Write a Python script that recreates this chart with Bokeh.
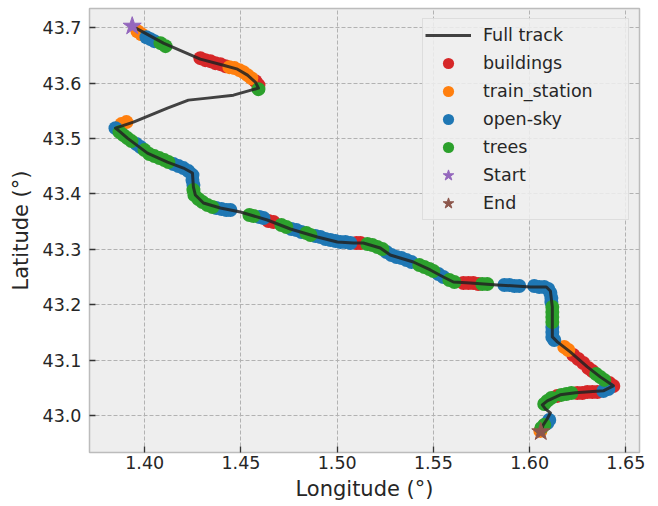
from bokeh.plotting import figure
from bokeh.models import Range1d, FixedTicker, PrintfTickFormatter, Legend, LegendItem
from bokeh.embed import file_html
from bokeh.resources import INLINE

# ---------------- data ----------------
track_lon = [1.3935, 1.4097, 1.4289, 1.4409, 1.4482, 1.4534, 1.4575, 1.4591, 1.4461, 1.4326,
             1.4227, 1.4118, 1.3941, 1.3848, 1.3874, 1.3910, 1.4014, 1.4118, 1.4201, 1.4248,
             1.4253, 1.4263, 1.4305, 1.4393, 1.4497, 1.4637, 1.4757, 1.4897, 1.5001, 1.5084,
             1.5136, 1.5224, 1.5276, 1.5396, 1.5484, 1.5552, 1.5604, 1.5692, 1.5832, 1.6004,
             1.6087, 1.6108, 1.6118, 1.6118, 1.6144, 1.6211, 1.6300, 1.6367, 1.6435, 1.6383,
             1.6238, 1.6159, 1.6092, 1.6066, 1.6082, 1.6108, 1.6092, 1.6071, 1.6058]
track_lat = [43.7031, 43.6724, 43.6435, 43.6326, 43.6254, 43.6146, 43.6020, 43.5912, 43.5785, 43.5731,
             43.5695, 43.5551, 43.5298, 43.5190, 43.5117, 43.5009, 43.4738, 43.4576, 43.4468, 43.4378,
             43.4125, 43.3981, 43.3836, 43.3746, 43.3674, 43.3530, 43.3367, 43.3223, 43.3132, 43.3114,
             43.3114, 43.3024, 43.2898, 43.2771, 43.2627, 43.2500, 43.2410, 43.2392, 43.2356, 43.2320,
             43.2320, 43.2248, 43.1960, 43.1418, 43.1328, 43.1147, 43.0877, 43.0696, 43.0534, 43.0444,
             43.0408, 43.0372, 43.0264, 43.0191, 43.0119, 43.0047, 42.9939, 42.9830, 42.9704]

buildings_lon = [1.4289, 1.4315, 1.4341, 1.4367, 1.4393, 1.4419, 1.4575, 1.4591, 1.4643, 1.4669,
                 1.5100, 1.5121, 1.5656, 1.5682, 1.5707, 1.5733, 1.6227, 1.6253, 1.6279, 1.6305,
                 1.6326, 1.6414, 1.6435, 1.6352, 1.6326, 1.6300, 1.6274, 1.6248, 1.6144]
buildings_lat = [43.6453, 43.6417, 43.6399, 43.6363, 43.6345, 43.6309, 43.6038, 43.5966, 43.3511, 43.3493,
                 43.3114, 43.3114, 43.2392, 43.2392, 43.2392, 43.2374, 43.1092, 43.1020, 43.0947, 43.0857,
                 43.0803, 43.0586, 43.0532, 43.0424, 43.0424, 43.0424, 43.0406, 43.0406, 43.0352]

train_lon = [1.3962, 1.3983, 1.4440, 1.4466, 1.4492, 1.4513, 1.4534, 1.4554, 1.3879, 1.3905,
             1.6180, 1.6201, 1.6056]
train_lat = [43.6940, 43.6886, 43.6291, 43.6273, 43.6236, 43.6200, 43.6146, 43.6092, 43.5262, 43.5298,
             43.1236, 43.1182, 42.9720]

opensky_lon = [1.4009, 1.4030, 1.4050, 1.3848, 1.3957, 1.3978, 1.4149, 1.4175, 1.4201, 1.4227,
               1.4248, 1.4248, 1.4253, 1.4372, 1.4399, 1.4424, 1.4445, 1.4596, 1.4617, 1.4762,
               1.4788, 1.4814, 1.4887, 1.4913, 1.4939, 1.4965, 1.4991, 1.5017, 1.5043, 1.5069,
               1.5256, 1.5282, 1.5308, 1.5334, 1.5360, 1.5386, 1.5526, 1.5552, 1.5869, 1.5895,
               1.5921, 1.5946, 1.6024, 1.6050, 1.6076, 1.6097, 1.6108, 1.6113, 1.6113, 1.6118,
               1.6118, 1.6118, 1.6128, 1.6409, 1.6383, 1.6102, 1.6092]
opensky_lat = [43.6832, 43.6796, 43.6760, 43.5189, 43.4901, 43.4847, 43.4540, 43.4504, 43.4467, 43.4413,
               43.4341, 43.4251, 43.4161, 43.3745, 43.3727, 43.3709, 43.3709, 43.3583, 43.3565, 43.3366,
               43.3348, 43.3312, 43.3240, 43.3222, 43.3186, 43.3168, 43.3150, 43.3132, 43.3132, 43.3114,
               43.2951, 43.2897, 43.2861, 43.2843, 43.2807, 43.2771, 43.2554, 43.2500, 43.2355, 43.2355,
               43.2337, 43.2337, 43.2337, 43.2319, 43.2319, 43.2283, 43.2211, 43.2121, 43.2049, 43.1597,
               43.1507, 43.1417, 43.1363, 43.0478, 43.0442, 42.9919, 42.9864]

trees_lon = [1.4082, 1.4108, 1.4591, 1.3869, 1.3889, 1.3910, 1.3931, 1.3999, 1.4024, 1.4050,
             1.4076, 1.4102, 1.4123, 1.4253, 1.4258, 1.4279, 1.4300, 1.4326, 1.4352, 1.4544,
             1.4565, 1.4710, 1.4736, 1.4840, 1.4861, 1.5157, 1.5183, 1.5209, 1.5235, 1.5427,
             1.5453, 1.5479, 1.5500, 1.5583, 1.5609, 1.5754, 1.5780, 1.6118, 1.6118, 1.6118,
             1.6118, 1.6346, 1.6367, 1.6388, 1.6217, 1.6191, 1.6165, 1.6113, 1.6092, 1.6076,
             1.6076, 1.6061]
trees_lat = [43.6724, 43.6670, 43.5893, 43.5117, 43.5063, 43.5009, 43.4955, 43.4792, 43.4720, 43.4684,
             43.4648, 43.4612, 43.4576, 43.4070, 43.3980, 43.3908, 43.3854, 43.3800, 43.3763, 43.3619,
             43.3601, 43.3439, 43.3402, 43.3294, 43.3258, 43.3096, 43.3078, 43.3041, 43.3005, 43.2716,
             43.2680, 43.2644, 43.2608, 43.2446, 43.2410, 43.2374, 43.2374, 43.1958, 43.1868, 43.1778,
             43.1688, 43.0749, 43.0695, 43.0641, 43.0406, 43.0388, 43.0370, 43.0316, 43.0262, 43.0207,
             42.9828, 42.9774]

x_ticks = [1.40, 1.45, 1.50, 1.55, 1.60, 1.65]
y_ticks = [43.0, 43.1, 43.2, 43.3, 43.4, 43.5, 43.6, 43.7]

FONT = "DejaVu Sans"
TXT = "#262626"

p = figure(width=658, height=506, output_backend="svg", toolbar_location=None,
           x_range=Range1d(1.3713, 1.6571), y_range=Range1d(42.933, 43.735),
           min_border_left=89, min_border_right=19, min_border_top=8, min_border_bottom=54,
           background_fill_color="#eeeeee", border_fill_color="white",
           x_axis_label="Longitude (°)", y_axis_label="Latitude (°)")

p.outline_line_color = "#bcbcbc"
p.outline_line_width = 1.5

p.xaxis.ticker = FixedTicker(ticks=x_ticks)
p.yaxis.ticker = FixedTicker(ticks=y_ticks)
p.xaxis.formatter = PrintfTickFormatter(format="%.2f")
p.yaxis.formatter = PrintfTickFormatter(format="%.1f")

for ax in (p.xaxis[0], p.yaxis[0]):
    ax.axis_line_color = None
    ax.major_tick_in = 6
    ax.major_tick_out = 0
    ax.major_tick_line_color = "#333333"
    ax.major_tick_line_width = 1.3
    ax.minor_tick_line_color = None
    ax.major_label_text_font = FONT
    ax.major_label_text_font_size = "17.5px"
    ax.major_label_text_color = TXT
    ax.axis_label_text_font = FONT
    ax.axis_label_text_font_size = "21px"
    ax.axis_label_text_font_style = "normal"
    ax.axis_label_text_color = TXT
p.xaxis.major_label_standoff = 3
p.xaxis.axis_label_standoff = 5
p.yaxis.major_label_standoff = 8
p.yaxis.axis_label_standoff = 7

for g in (p.xgrid[0], p.ygrid[0]):
    g.grid_line_color = "#b2b2b2"
    g.grid_line_dash = "4 2"
    g.grid_line_width = 1

MS = 14
r_b = p.scatter(x=buildings_lon, y=buildings_lat, marker="circle", size=MS,
                fill_color="#d62728", line_color=None)
r_t = p.scatter(x=train_lon, y=train_lat, marker="circle", size=MS,
                fill_color="#ff7f0e", line_color=None)
r_o = p.scatter(x=opensky_lon, y=opensky_lat, marker="circle", size=MS,
                fill_color="#1f77b4", line_color=None)
r_g = p.scatter(x=trees_lon, y=trees_lat, marker="circle", size=MS,
                fill_color="#2ca02c", line_color=None)

r_line = p.line(x=track_lon, y=track_lat, line_color="#222222", line_alpha=0.85,
                line_width=3, line_join="round")

r_s = p.scatter(x=track_lon[:1], y=track_lat[:1], marker="star", size=19,
                fill_color="#9467bd", line_color="#9467bd")
r_e = p.scatter(x=track_lon[-1:], y=track_lat[-1:], marker="star", size=19,
                fill_color="#8c564b", line_color="#8c564b")

legend = Legend(items=[
    LegendItem(label="Full track", renderers=[r_line]),
    LegendItem(label="buildings", renderers=[r_b]),
    LegendItem(label="train_station", renderers=[r_t]),
    LegendItem(label="open-sky", renderers=[r_o]),
    LegendItem(label="trees", renderers=[r_g]),
    LegendItem(label="Start", renderers=[r_s]),
    LegendItem(label="End", renderers=[r_e]),
], location="top_right")
legend.margin = 10
legend.padding = 2
legend.spacing = 0
legend.glyph_height = 28
legend.glyph_width = 46
legend.label_height = 28
legend.label_width = 143
legend.label_standoff = 12
legend.label_text_font = FONT
legend.label_text_font_size = "17.5px"
legend.label_text_color = TXT
legend.background_fill_color = "#eeeeee"
legend.background_fill_alpha = 0.85
legend.border_line_color = "#cccccc"
legend.border_line_width = 1
p.add_layout(legend)

open("out.html", "w").write(file_html(p, INLINE))
